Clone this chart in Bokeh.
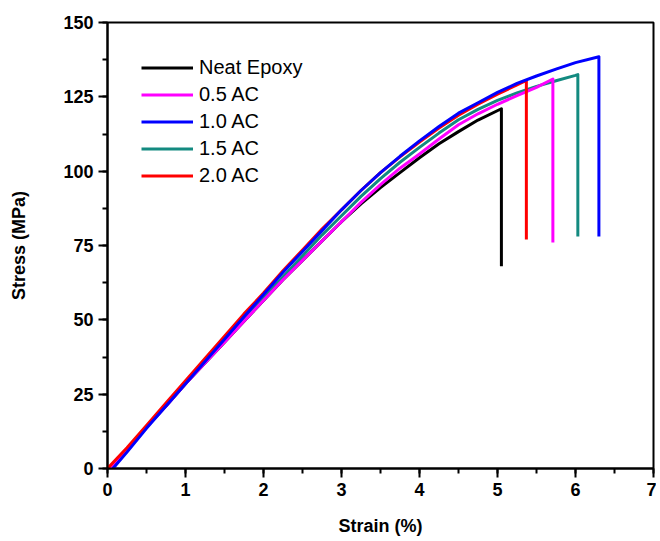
from bokeh.plotting import figure
from bokeh.models import Legend, LegendItem, SingleIntervalTicker
from bokeh.embed import file_html
from bokeh.resources import INLINE

# ---- data ----
labels = ["Neat Epoxy", "0.5 AC", "1.0 AC", "1.5 AC", "2.0 AC"]
colors = ["#000000", "#FF00FF", "#0000FF", "#138A80", "#FF0000"]

strain_neat = [0.02, 0.25, 0.5, 0.75, 1.0, 1.25, 1.5, 1.75, 2.0, 2.25, 2.5, 2.75, 3.0,
               3.25, 3.5, 3.75, 4.0, 4.25, 4.5, 4.75, 5.05, 5.05]
stress_neat = [0, 6.5, 14, 21, 28.5, 35.5, 42.5, 49.5, 56.5, 63.5, 70, 76.5, 83,
               89, 94.5, 99.5, 104.5, 109.2, 113.3, 117.2, 121, 68]

strain_05 = [0.02, 0.25, 0.5, 0.75, 1.0, 1.25, 1.5, 1.75, 2.0, 2.25, 2.5, 2.75, 3.0,
             3.25, 3.5, 3.75, 4.0, 4.25, 4.5, 4.75, 5.0, 5.25, 5.5, 5.71, 5.71]
stress_05 = [0, 6.5, 14, 21, 28.5, 35.5, 42.5, 49.5, 56.5, 63.5, 70, 76.5, 83,
             89.5, 95.5, 101, 105.8, 110.8, 115.6, 119.3, 122.5, 125.4, 128.2, 131, 76]

strain_10 = [0.07, 0.25, 0.5, 0.75, 1.0, 1.25, 1.5, 1.75, 2.0, 2.25, 2.5, 2.75, 3.0,
             3.25, 3.5, 3.75, 4.0, 4.25, 4.5, 4.75, 5.0, 5.25, 5.5, 5.75, 6.0, 6.3, 6.3]
stress_10 = [0, 5.5, 13.5, 21, 28.5, 36, 43.5, 51, 58.5, 66, 73, 80, 87,
             93.5, 99.5, 105, 110.2, 115, 119.5, 123, 126.5, 129.5, 132, 134.3, 136.5, 138.5, 78]

strain_15 = [0.03, 0.25, 0.5, 0.75, 1.0, 1.25, 1.5, 1.75, 2.0, 2.25, 2.5, 2.75, 3.0,
             3.25, 3.5, 3.75, 4.0, 4.25, 4.5, 4.75, 5.0, 5.25, 5.5, 5.75, 6.0, 6.03, 6.03]
stress_15 = [0, 6.5, 14, 21.5, 29, 36.5, 43.5, 50.5, 57.5, 64.5, 71.5, 78.5, 85,
             91.5, 97.5, 103, 108, 112.8, 117.3, 120.8, 123.8, 126.3, 128.5, 130.4, 132.2, 132.5, 78]

strain_20 = [0.0, 0.25, 0.5, 0.75, 1.0, 1.25, 1.5, 1.75, 2.0, 2.25, 2.5, 2.75, 3.0,
             3.25, 3.5, 3.75, 4.0, 4.25, 4.5, 4.75, 5.0, 5.25, 5.37, 5.37]
stress_20 = [0, 7, 14.5, 22, 29.5, 37, 44.5, 52, 59, 66.5, 73.5, 80.5, 87,
             93.5, 99.5, 104.8, 109.8, 114.5, 118.8, 122.5, 125.9, 129, 130.5, 77]

x_title = "Strain (%)"
y_title = "Stress (MPa)"

p = figure(width=656, height=540, x_range=(0, 7), y_range=(0, 150),
           output_backend="svg", toolbar_location=None,
           min_border_left=107, min_border_right=3, min_border_top=22,
           min_border_bottom=72)
p.xgrid.visible = False
p.ygrid.visible = False
p.outline_line_color = "black"
p.outline_line_width = 2
p.background_fill_color = "white"

p.xaxis.ticker = SingleIntervalTicker(interval=1, num_minor_ticks=2)
p.yaxis.ticker = SingleIntervalTicker(interval=25, num_minor_ticks=2)

for ax in (p.xaxis[0], p.yaxis[0]):
    ax.axis_line_width = 2
    ax.axis_line_color = "black"
    ax.major_tick_line_width = 2
    ax.minor_tick_line_width = 2
    ax.major_tick_in = 0
    ax.major_tick_out = 9
    ax.minor_tick_in = 0
    ax.minor_tick_out = 5
    ax.major_label_text_font = "Liberation Sans"
    ax.major_label_text_font_style = "bold"
    ax.major_label_text_font_size = "18px"
    ax.major_label_text_color = "black"
    ax.axis_label_text_font = "Liberation Sans"
    ax.axis_label_text_font_style = "bold"
    ax.axis_label_text_font_size = "18px"
    ax.axis_label_text_color = "black"

p.xaxis.axis_label = x_title
p.yaxis.axis_label = y_title
p.xaxis.major_label_standoff = 5
p.yaxis.major_label_standoff = 5
p.xaxis.axis_label_standoff = 17
p.yaxis.axis_label_standoff = 31

series = [(strain_neat, stress_neat), (strain_05, stress_05), (strain_10, stress_10),
          (strain_15, stress_15), (strain_20, stress_20)]

draw_order = [0, 3, 1, 4, 2]
renderers = {}
for i in draw_order:
    xs, ys = series[i]
    renderers[i] = p.line(xs, ys, line_color=colors[i], line_width=3,
                          line_join="round")

items = [LegendItem(label=labels[i], renderers=[renderers[i]]) for i in range(5)]
legend = Legend(items=items, location=(34, 279), border_line_alpha=0,
                background_fill_alpha=0, padding=0, spacing=0, margin=0,
                glyph_width=52, glyph_height=27, label_height=27, label_standoff=6,
                label_text_font="Liberation Sans", label_text_font_size="20px",
                label_text_color="black")
p.add_layout(legend)

open("out.html", "w").write(file_html(p, INLINE))
